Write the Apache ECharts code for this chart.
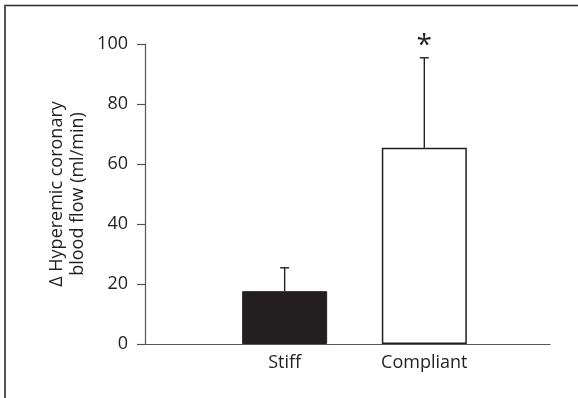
<!DOCTYPE html>
<html>
<head>
<meta charset="utf-8">
<script src="https://cdn.jsdelivr.net/npm/echarts@6/dist/echarts.min.js"></script>
<style>
  html, body { margin: 0; padding: 0; background: #fff; }
  #chart { width: 578px; height: 398px; }
</style>
</head>
<body>
<div id="chart"></div>
<script>
// Hyperemic coronary blood flow change, stiff vs compliant groups
const categories = ['Stiff', 'Compliant'];
const meanValues = [17.6, 65.4];
const sdValues = [7.8, 30.0];
const significance = ['', '*'];
const yTicks = [0, 20, 40, 60, 80, 100];

const FONT = '"Open Sans", "Noto Sans", sans-serif';
const INK = '#231f20';

const barData = categories.map((c, i) => ({
  value: [i + 1, meanValues[i]],
  itemStyle: i === 0
    ? { color: INK, borderColor: INK, borderWidth: 1 }
    : { color: '#ffffff', borderColor: INK, borderWidth: 1.5 }
}));
const errData = categories.map((c, i) => [i + 1, meanValues[i], meanValues[i] + sdValues[i], i]);

const chart = echarts.init(document.getElementById('chart'), null, { renderer: 'canvas' });
chart.setOption({
  animation: false,
  backgroundColor: '#ffffff',
  grid: { left: 145, right: 28, top: 44, bottom: 54, containLabel: false },
  xAxis: {
    type: 'value',
    min: 0,
    max: 2.9,
    interval: 1,
    splitLine: { show: false },
    axisTick: { show: false },
    axisLine: { show: true, onZero: false, lineStyle: { color: '#555', width: 1.2 } },
    axisLabel: {
      showMinLabel: false,
      showMaxLabel: false,
      margin: 10,
      fontFamily: FONT,
      fontSize: 18,
      color: INK,
      formatter: v => (Number.isInteger(v) && v >= 1 && v <= categories.length) ? categories[v - 1] : ''
    }
  },
  yAxis: {
    type: 'value',
    min: yTicks[0],
    max: yTicks[yTicks.length - 1],
    interval: 20,
    splitLine: { show: false },
    axisLine: { show: true, lineStyle: { color: '#555', width: 1.2 } },
    axisTick: { show: true, length: 8, lineStyle: { color: '#555', width: 1.2 } },
    axisLabel: { margin: 17, fontFamily: FONT, fontSize: 18, color: INK }
  },
  graphic: [
    // figure frame: top and left edges
    {
      type: 'line',
      shape: { x1: 4, y1: 5.5, x2: 578, y2: 5.5 },
      style: { stroke: '#2a2a2a', lineWidth: 1.4 },
      silent: true
    },
    {
      type: 'line',
      shape: { x1: 5, y1: 5, x2: 5, y2: 398 },
      style: { stroke: '#555', lineWidth: 2 },
      silent: true
    },
    {
      type: 'text',
      x: 67,
      y: 194,
      rotation: Math.PI / 2,
      style: {
        text: 'Δ Hyperemic coronary\nblood flow (ml/min)',
        font: '18px ' + FONT,
        fill: INK,
        align: 'center',
        verticalAlign: 'middle',
        lineHeight: 21
      }
    }
  ],
  series: [
    {
      type: 'bar',
      barWidth: 85,
      data: barData,
      z: 2
    },
    {
      type: 'custom',
      z: 3,
      data: errData,
      renderItem: (params, api) => {
        const base = api.coord([api.value(0), api.value(1)]);
        const top = api.coord([api.value(0), api.value(2)]);
        const idx = api.value(3);
        const half = 4.5;
        const children = [
          { type: 'line', shape: { x1: base[0], y1: base[1], x2: top[0], y2: top[1] },
            style: { stroke: INK, lineWidth: 1.4 } },
          { type: 'line', shape: { x1: top[0] - half, y1: top[1], x2: top[0] + half, y2: top[1] },
            style: { stroke: INK, lineWidth: 1.4 } }
        ];
        if (significance[idx]) {
          children.push({
            type: 'text',
            x: top[0],
            y: top[1] + 2,
            style: { text: significance[idx], font: '28px ' + FONT, fill: INK,
                     align: 'center', verticalAlign: 'bottom' }
          });
        }
        return { type: 'group', children };
      }
    }
  ]
});
</script>
</body>
</html>
